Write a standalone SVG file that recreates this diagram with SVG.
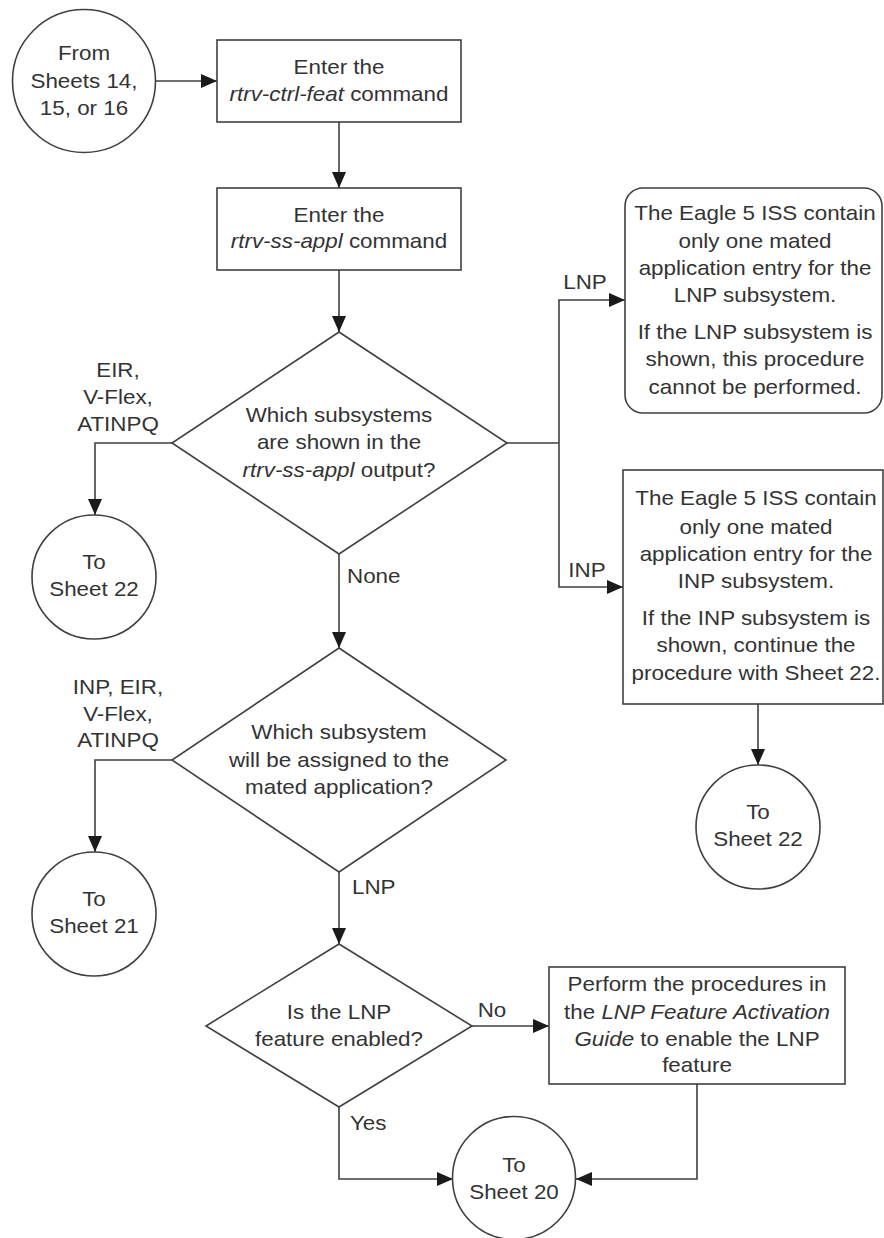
<svg xmlns="http://www.w3.org/2000/svg" width="884" height="1238" viewBox="0 0 884 1238">
<style>
  .bg { fill: #ffffff; }
  .shape { fill: #ffffff; stroke: #404040; stroke-width: 1.6; }
  .edge { fill: none; stroke: #404040; stroke-width: 1.6; }
  text { font-family: "Liberation Sans", Arial, sans-serif; font-size: 20px; fill: #333333; }
  .c { text-anchor: middle; }
  .l { text-anchor: start; }
  .i { font-style: italic; }
</style>
<defs>
  <marker id="ah" viewBox="0 0 16 14" refX="16" refY="7" markerWidth="16" markerHeight="14" markerUnits="userSpaceOnUse" orient="auto">
    <path d="M0,0 L16,7 L0,14 z" fill="#1a1a1a"/>
  </marker>
</defs>
<rect class="bg" x="0" y="0" width="884" height="1238"/>

<g id="connectors">
  <line class="edge" x1="156" y1="81" x2="217" y2="81" marker-end="url(#ah)"/>
  <line class="edge" x1="339" y1="122" x2="339" y2="188" marker-end="url(#ah)"/>
  <line class="edge" x1="339" y1="270" x2="339" y2="332" marker-end="url(#ah)"/>
  <polyline class="edge" points="172,443 95,443 95,515" marker-end="url(#ah)"/>
  <line class="edge" x1="507" y1="443" x2="559" y2="443"/>
  <polyline class="edge" points="559,443 559,300 625,300" marker-end="url(#ah)"/>
  <polyline class="edge" points="559,443 559,587 623,587" marker-end="url(#ah)"/>
  <line class="edge" x1="758" y1="704" x2="758" y2="765" marker-end="url(#ah)"/>
  <line class="edge" x1="339" y1="554" x2="339" y2="648" marker-end="url(#ah)"/>
  <polyline class="edge" points="172,760 95,760 95,852" marker-end="url(#ah)"/>
  <line class="edge" x1="339" y1="872" x2="339" y2="944" marker-end="url(#ah)"/>
  <line class="edge" x1="472" y1="1026" x2="549" y2="1026" marker-end="url(#ah)"/>
  <polyline class="edge" points="339,1107 339,1179 453,1179" marker-end="url(#ah)"/>
  <polyline class="edge" points="697,1084 697,1179 576,1179" marker-end="url(#ah)"/>
  <g id="edge-labels">
    <g transform="translate(118 0) scale(1.12 1)">
      <text class="c"><tspan x="0" y="377">EIR,</tspan><tspan x="0" y="404">V-Flex,</tspan><tspan x="0" y="431">ATINPQ</tspan></text>
    </g>
    <g transform="translate(585 0) scale(1.12 1)"><text class="c" x="0" y="289">LNP</text></g>
    <g transform="translate(587 0) scale(1.12 1)"><text class="c" x="0" y="577">INP</text></g>
    <g transform="translate(347 0) scale(1.12 1)"><text class="l" x="0" y="583">None</text></g>
    <g transform="translate(118 0) scale(1.12 1)">
      <text class="c"><tspan x="0" y="694">INP, EIR,</tspan><tspan x="0" y="721">V-Flex,</tspan><tspan x="0" y="747">ATINPQ</tspan></text>
    </g>
    <g transform="translate(352 0) scale(1.12 1)"><text class="l" x="0" y="894">LNP</text></g>
    <g transform="translate(492 0) scale(1.12 1)"><text class="c" x="0" y="1017">No</text></g>
    <g transform="translate(350 0) scale(1.12 1)"><text class="l" x="0" y="1130">Yes</text></g>
  </g>
</g>

<g id="from-sheets">
  <circle class="shape" cx="84" cy="81" r="71.5"/>
  <g transform="translate(84 0) scale(1.12 1)">
    <text class="c"><tspan x="0" y="60">From</tspan><tspan x="0" y="88">Sheets 14,</tspan><tspan x="0" y="115">15, or 16</tspan></text>
  </g>
</g>

<g id="rtrv-ctrl-feat">
  <rect class="shape" x="217" y="40" width="244" height="82"/>
  <g transform="translate(339 0) scale(1.12 1)">
    <text class="c"><tspan x="0" y="74">Enter the</tspan><tspan x="0" y="101"><tspan class="i">rtrv-ctrl-feat</tspan> command</tspan></text>
  </g>
</g>

<g id="rtrv-ss-appl">
  <rect class="shape" x="217" y="188" width="244" height="82"/>
  <g transform="translate(339 0) scale(1.12 1)">
    <text class="c"><tspan x="0" y="222">Enter the</tspan><tspan x="0" y="248"><tspan class="i">rtrv-ss-appl</tspan> command</tspan></text>
  </g>
</g>

<g id="which-subsystems-shown">
  <polygon class="shape" points="339,332 507,443 339,554 172,443"/>
  <g transform="translate(339 0) scale(1.12 1)">
    <text class="c"><tspan x="0" y="422">Which subsystems</tspan><tspan x="0" y="449">are shown in the</tspan><tspan x="0" y="477"><tspan class="i">rtrv-ss-appl</tspan> output?</tspan></text>
  </g>
</g>

<g id="to-sheet-22-left">
  <circle class="shape" cx="94" cy="577" r="62"/>
  <g transform="translate(94 0) scale(1.12 1)">
    <text class="c"><tspan x="0" y="569">To</tspan><tspan x="0" y="596">Sheet 22</tspan></text>
  </g>
</g>

<g id="lnp-note">
  <rect class="shape" x="625" y="188" width="257" height="225" rx="18" ry="18"/>
  <g transform="translate(755 0) scale(1.12 1)">
    <text class="c"><tspan x="0" y="220">The Eagle 5 ISS contain</tspan><tspan x="0" y="248">only one mated</tspan><tspan x="0" y="275">application entry for the</tspan><tspan x="0" y="302">LNP subsystem.</tspan><tspan x="0" y="339">If the LNP subsystem is</tspan><tspan x="0" y="366">shown, this procedure</tspan><tspan x="0" y="394">cannot be performed.</tspan></text>
  </g>
</g>

<g id="inp-note">
  <rect class="shape" x="623" y="470" width="260" height="234"/>
  <g transform="translate(756 0) scale(1.12 1)">
    <text class="c"><tspan x="0" y="505">The Eagle 5 ISS contain</tspan><tspan x="0" y="534">only one mated</tspan><tspan x="0" y="561">application entry for the</tspan><tspan x="0" y="588">INP subsystem.</tspan><tspan x="0" y="625">If the INP subsystem is</tspan><tspan x="0" y="652">shown, continue the</tspan><tspan x="0" y="680">procedure with Sheet 22.</tspan></text>
  </g>
</g>

<g id="to-sheet-22-right">
  <circle class="shape" cx="758" cy="827" r="62"/>
  <g transform="translate(758 0) scale(1.12 1)">
    <text class="c"><tspan x="0" y="819">To</tspan><tspan x="0" y="846">Sheet 22</tspan></text>
  </g>
</g>

<g id="which-subsystem-assigned">
  <polygon class="shape" points="339,648 506,760 339,872 172,760"/>
  <g transform="translate(339 0) scale(1.12 1)">
    <text class="c"><tspan x="0" y="739">Which subsystem</tspan><tspan x="0" y="767">will be assigned to the</tspan><tspan x="0" y="794">mated application?</tspan></text>
  </g>
</g>

<g id="to-sheet-21">
  <circle class="shape" cx="94" cy="914" r="62"/>
  <g transform="translate(94 0) scale(1.12 1)">
    <text class="c"><tspan x="0" y="906">To</tspan><tspan x="0" y="933">Sheet 21</tspan></text>
  </g>
</g>

<g id="lnp-enabled">
  <polygon class="shape" points="339,944 472,1026 339,1107 206,1026"/>
  <g transform="translate(339 0) scale(1.12 1)">
    <text class="c"><tspan x="0" y="1019">Is the LNP</tspan><tspan x="0" y="1046">feature enabled?</tspan></text>
  </g>
</g>

<g id="enable-lnp">
  <rect class="shape" x="549" y="967" width="296" height="117"/>
  <g transform="translate(697 0) scale(1.12 1)">
    <text class="c"><tspan x="0" y="991">Perform the procedures in</tspan><tspan x="0" y="1019">the <tspan class="i">LNP Feature Activation</tspan></tspan><tspan x="0" y="1046"><tspan class="i">Guide</tspan> to enable the LNP</tspan><tspan x="0" y="1072">feature</tspan></text>
  </g>
</g>

<g id="to-sheet-20">
  <circle class="shape" cx="514" cy="1178" r="61.5"/>
  <g transform="translate(514 0) scale(1.12 1)">
    <text class="c"><tspan x="0" y="1172">To</tspan><tspan x="0" y="1199">Sheet 20</tspan></text>
  </g>
</g>
</svg>
